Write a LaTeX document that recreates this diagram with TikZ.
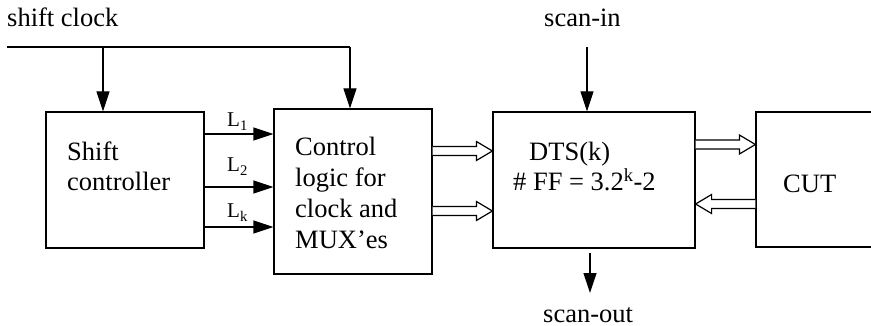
\documentclass[tikz,border=0pt]{standalone}
\usepackage{fontspec}
\setmainfont{Liberation Serif}
\usetikzlibrary{arrows.meta,calc}
\newcommand\hollowarr[3]{%
  \draw[harr] let \p1=(#1), \p2=(#2), \p3=(0,#3), \n1={sign(\x2-\x1)} in
   (\x1,{\y3+4.5pt}) -- ({\x2-\n1*16pt},{\y3+4.5pt}) -- ({\x2-\n1*16pt},{\y3+9.5pt})
   -- (\x2,\y3) -- ({\x2-\n1*16pt},{\y3-9.5pt}) -- ({\x2-\n1*16pt},{\y3-4.5pt})
   -- (\x1,{\y3-4.5pt});}
\begin{document}
\begin{tikzpicture}[x=1pt,y=-1pt,
  box/.style={draw,line width=1.2pt,minimum width=#1,inner sep=0pt},
  arr/.style={line width=1.2pt,-{Triangle[length=20pt,width=13pt]}},
  harr/.style={line width=1.2pt,fill=white,line join=miter},
  txt/.style={anchor=base west,inner sep=0pt,align=left,font=\fontsize{26.5}{30.7}\selectfont},
  lab/.style={anchor=base west,inner sep=0pt,font=\fontsize{21}{24}\selectfont}]
\clip (0,0) rectangle (871,326);
% boxes
\node[box=158pt,minimum height=136pt] (shift) at (125,180) {};
\node[box=158pt,minimum height=165pt] (ctrl) at (353,191.5) {};
\node[box=202pt,minimum height=136pt] (dts) at (594,180) {};
\node[box=144pt,minimum height=135pt] (cut) at (828,179.5) {};
% texts (multi-line nodes are placed by the baseline of their last line)
\node[txt] (tclk) at (7,27) {shift clock};
\node[txt] (tsin) at (544,27) {scan-in};
\node[txt] (tsout) at (543,322) {scan-out};
\node[txt] (tshift) at (67,191) {Shift\\controller};
\node[txt] (tctrl) at (295,248) {Control\\logic for\\clock and\\MUX’es};
\node[txt] (tdts) at (529,161) {DTS(k)};
\node[txt] (tff) at (513,191) {\# FF = 3.2\textsuperscript{k}-2};
\node[txt] (tcut) at (783,193) {CUT};
\node[lab] (l1) at (227,127) {L\textsubscript{1}};
\node[lab] (l2) at (227,172) {L\textsubscript{2}};
\node[lab] (lk) at (227,218) {L\textsubscript{k}};
% shift clock
\coordinate (ck0) at (7,47);
\coordinate (ck1) at (103,47);
\coordinate (ck2) at (350,47);
\draw[line width=1.2pt] (ck0) -- (ck2);
\draw[arr] (ck1) -- (ck1 |- shift.north);
\draw[arr] (ck2) -- (ck2 |- ctrl.north);
% L lines
\coordinate (y1) at (0,134);
\coordinate (y2) at (0,187);
\coordinate (yk) at (0,227);
\draw[arr] (shift.east |- y1) -- (ctrl.west |- y1);
\draw[arr] (shift.east |- y2) -- (ctrl.west |- y2);
\draw[arr] (shift.east |- yk) -- (ctrl.west |- yk);
% scan in/out
\coordinate (si) at (587,47);
\draw[arr] (si) -- (si |- dts.north);
\coordinate (so0) at (590,253);
\coordinate (so1) at (590,293);
\draw[arr] (so0) -- (so1);
% hollow arrows
\hollowarr{ctrl.east}{dts.west}{151}
\hollowarr{ctrl.east}{dts.west}{211}
\hollowarr{dts.east}{cut.west}{144.5}
\hollowarr{cut.west}{dts.east}{204}
\end{tikzpicture}
\end{document}
